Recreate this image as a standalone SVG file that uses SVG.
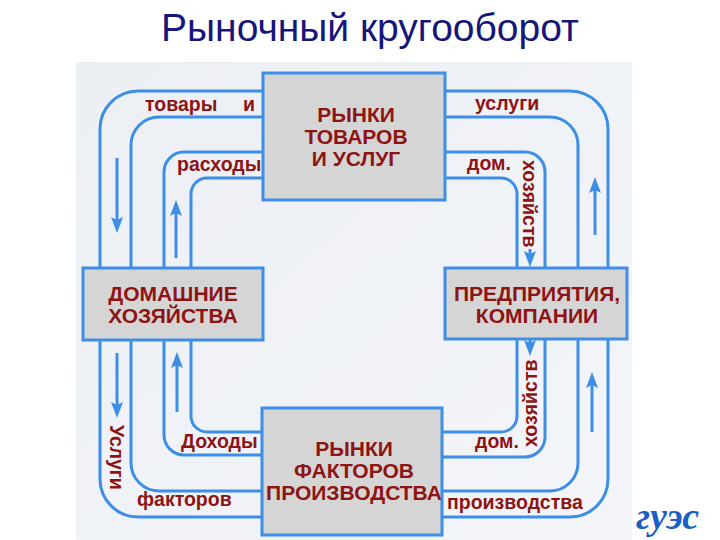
<svg xmlns="http://www.w3.org/2000/svg" width="720" height="540" viewBox="0 0 720 540">
<defs>
<style>
.title{font-family:"Liberation Sans",Arial,sans-serif;font-size:39px;fill:#16167a}
.box{fill:#d5d5d5;stroke:#3d8fe5;stroke-width:3}
.bt{font-family:"Liberation Sans",Arial,sans-serif;font-size:21px;font-weight:bold;fill:#8e1414;text-anchor:middle}
.lb{font-family:"Liberation Sans",Arial,sans-serif;font-size:19.5px;font-weight:bold;fill:#8e1414}
.ln{fill:none;stroke:#3d8fe5;stroke-width:3}
.ar{fill:none;stroke:#3d8fe5;stroke-width:3;marker-end:url(#ah)}
.logo{font-family:"Liberation Serif",serif;font-style:italic;font-weight:bold;font-size:38px;fill:#1a5fc2}
</style>
<marker id="ah" viewBox="0 0 16 12" refX="6" refY="6" markerWidth="16" markerHeight="12" markerUnits="userSpaceOnUse" orient="auto">
<path d="M0,0 L16,6 L0,12 L3,6 Z" fill="#3d8fe5"/>
</marker>
<linearGradient id="bg" x1="0" y1="0" x2="1" y2="1">
<stop offset="0" stop-color="#eceff4"/>
<stop offset="1" stop-color="#f3f5f9"/>
</linearGradient>
</defs>
<rect width="720" height="540" fill="#ffffff"/>
<text class="logo" x="699" y="529" text-anchor="end">гуэс</text>
<rect x="76" y="62" width="556" height="478" fill="url(#bg)"/>
<text class="title" x="370" y="41" text-anchor="middle">Рыночный кругооборот</text>

<g id="connectors">
<path class="ln" d="M263,91 H138 A38,38 0 0 0 100,129 V268"/>
<path class="ln" d="M263,117 H159 A28,28 0 0 0 131,145 V268"/>
<path class="ln" d="M263,152 H184 A20,20 0 0 0 164,172 V268"/>
<path class="ln" d="M263,178 H207 A16,16 0 0 0 191,194 V268"/>
<path class="ln" d="M445,91 H570 A38,38 0 0 1 608,129 V268"/>
<path class="ln" d="M445,117 H550 A28,28 0 0 1 578,145 V268"/>
<path class="ln" d="M445,152 H525 A20,20 0 0 1 545,172 V268"/>
<path class="ln" d="M445,178 H501 A16,16 0 0 1 517,194 V268"/>
<path class="ln" d="M100,340 V479 A38,38 0 0 0 138,517 H262"/>
<path class="ln" d="M131,340 V463 A28,28 0 0 0 159,491 H262"/>
<path class="ln" d="M164,340 V435 A20,20 0 0 0 184,455 H262"/>
<path class="ln" d="M191,340 V416 A16,16 0 0 0 207,432 H262"/>
<path class="ln" d="M608,339 V479 A38,38 0 0 1 570,517 H442"/>
<path class="ln" d="M578,339 V463 A28,28 0 0 1 550,491 H442"/>
<path class="ln" d="M545,339 V437 A20,20 0 0 1 525,457 H442"/>
<path class="ln" d="M517,339 V416 A16,16 0 0 1 501,432 H442"/>
<line class="ar" x1="117" y1="158" x2="117" y2="223"/>
<line class="ar" x1="176" y1="258" x2="176" y2="210"/>
<line class="ar" x1="117" y1="353" x2="117" y2="408"/>
<line class="ar" x1="177" y1="412" x2="177" y2="362"/>
<line class="ar" x1="595" y1="235" x2="595" y2="187"/>
<line class="ar" x1="530" y1="249" x2="530" y2="257"/>
<line class="ar" x1="530" y1="340" x2="530" y2="346"/>
<line class="ar" x1="592" y1="432" x2="592" y2="382"/>
</g>

<g id="labels">
<text class="lb" x="145" y="111">товары</text>
<text class="lb" x="243" y="111">и</text>
<text class="lb" x="177" y="171">расходы</text>
<text class="lb" x="475" y="110">услуги</text>
<text class="lb" x="467" y="170">дом.</text>
<text class="lb" transform="translate(523,160) rotate(90)">хозяйств</text>
<text class="lb" x="181" y="448">Доходы</text>
<text class="lb" transform="translate(110,425) rotate(90)">Услуги</text>
<text class="lb" x="137" y="506">факторов</text>
<text class="lb" x="475" y="448">дом.</text>
<text class="lb" transform="translate(537,447) rotate(-90)">хозяйств</text>
<text class="lb" x="447" y="509">производства</text>
</g>

<g id="goods-market">
<rect class="box" x="263" y="73" width="182" height="127"/>
<text class="bt" x="356" y="122">РЫНКИ</text>
<text class="bt" x="356" y="144">ТОВАРОВ</text>
<text class="bt" x="356" y="166">И УСЛУГ</text>
</g>
<g id="households">
<rect class="box" x="83" y="268" width="180" height="72"/>
<text class="bt" x="173" y="301">ДОМАШНИЕ</text>
<text class="bt" x="173" y="323">ХОЗЯЙСТВА</text>
</g>
<g id="firms">
<rect class="box" x="445" y="268" width="182" height="71"/>
<text class="bt" x="537" y="301">ПРЕДПРИЯТИЯ,</text>
<text class="bt" x="537" y="323">КОМПАНИИ</text>
</g>
<g id="factor-market">
<rect class="box" x="262" y="408" width="180" height="127"/>
<text class="bt" x="354" y="456">РЫНКИ</text>
<text class="bt" x="354" y="478">ФАКТОРОВ</text>
<text class="bt" x="354" y="500">ПРОИЗВОДСТВА</text>
</g>
</svg>
